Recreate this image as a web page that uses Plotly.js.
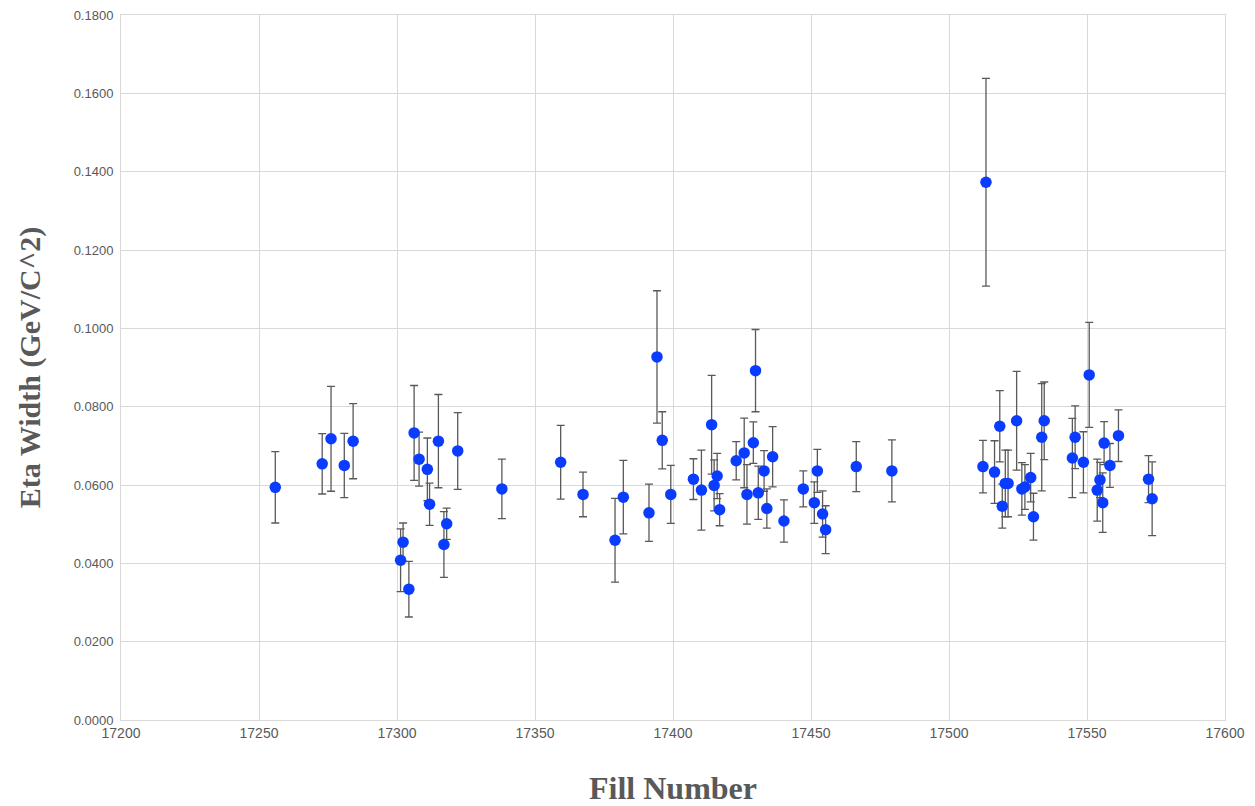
<!DOCTYPE html>
<html>
<head>
<meta charset="utf-8">
<script src="https://cdn.plot.ly/plotly-3.0.1.min.js"></script>
<style>html,body{margin:0;padding:0;background:#fff;}#chart{width:1255px;height:806px;}</style>
</head>
<body>
<div id="chart"></div>
<script>
const fillNumber = [
  17255.9, 17272.9, 17276.1, 17280.9, 17284.1,
  17301.3, 17302.2, 17304.3, 17306.2, 17308.0, 17311.0, 17311.8, 17315.0, 17317.0, 17318.0, 17322.0,
  17338.0, 17359.3, 17367.4, 17379.0, 17382.0, 17391.3, 17394.2, 17396.1, 17399.2,
  17407.4, 17410.3, 17414.0, 17414.9, 17416.0, 17416.9, 17422.9, 17425.8, 17426.8, 17429.1, 17429.9, 17430.9, 17433.0, 17434.0, 17436.1,
  17440.2, 17447.2, 17451.2, 17452.3, 17454.2, 17455.3, 17466.4, 17479.3,
  17512.3, 17513.4, 17516.5, 17518.4, 17519.3, 17520.4, 17521.4, 17524.5, 17526.4, 17527.5, 17529.6, 17530.6, 17533.6, 17534.5,
  17544.7, 17545.7, 17548.7, 17550.8, 17553.7, 17554.7, 17555.7, 17556.2, 17558.3, 17561.4, 17572.3, 17573.6
];
const etaWidth = [
  0.0594, 0.0654, 0.0718, 0.0650, 0.0712,
  0.0408, 0.0454, 0.0334, 0.0733, 0.0666, 0.0640, 0.0551, 0.0712, 0.0448, 0.0501, 0.0687,
  0.0590, 0.0658, 0.0576, 0.0459, 0.0569, 0.0529, 0.0927, 0.0714, 0.0576,
  0.0615, 0.0587, 0.0754, 0.0599, 0.0623, 0.0537, 0.0662, 0.0682, 0.0576, 0.0708, 0.0892, 0.0580, 0.0636, 0.0540, 0.0672,
  0.0508, 0.0590, 0.0555, 0.0636, 0.0526, 0.0486, 0.0647, 0.0636,
  0.0647, 0.1373, 0.0633, 0.0750, 0.0546, 0.0604, 0.0604, 0.0764, 0.0590, 0.0595, 0.0619, 0.0519, 0.0722, 0.0764,
  0.0669, 0.0722, 0.0658, 0.0881, 0.0587, 0.0613, 0.0555, 0.0707, 0.0650, 0.0726, 0.0615, 0.0565
];
const etaError = [
  0.0091, 0.0077, 0.0134, 0.0082, 0.0096,
  0.0080, 0.0049, 0.0071, 0.0121, 0.0069, 0.0080, 0.0054, 0.0119, 0.0084, 0.0040, 0.0098,
  0.0076, 0.0094, 0.0057, 0.0107, 0.0094, 0.0073, 0.0169, 0.0073, 0.0074,
  0.0052, 0.0102, 0.0126, 0.0065, 0.0058, 0.0041, 0.0049, 0.0089, 0.0076, 0.0053, 0.0105, 0.0068, 0.0052, 0.0050, 0.0077,
  0.0054, 0.0046, 0.0053, 0.0055, 0.0059, 0.0061, 0.0064, 0.0079,
  0.0067, 0.0265, 0.0080, 0.0091, 0.0056, 0.0085, 0.0085, 0.0126, 0.0067, 0.0057, 0.0062, 0.0060, 0.0137, 0.0099,
  0.0101, 0.0080, 0.0078, 0.0134, 0.0079, 0.0045, 0.0076, 0.0055, 0.0056, 0.0066, 0.0060, 0.0094
];

const trace = {
  x: fillNumber,
  y: etaWidth,
  type: 'scatter',
  mode: 'markers',
  marker: {color: '#0a3cff', size: 11.5},
  error_y: {type: 'data', array: etaError, visible: true, color: '#595959', thickness: 1.3, width: 4},
  showlegend: false,
  hoverinfo: 'x+y'
};

const layout = {
  width: 1255,
  height: 806,
  paper_bgcolor: '#ffffff',
  plot_bgcolor: '#ffffff',
  margin: {l: 121, r: 30, t: 15, b: 86},
  showlegend: false,
  xaxis: {
    range: [17200, 17600],
    dtick: 50,
    tick0: 17200,
    tickformat: 'd',
    showgrid: true,
    gridcolor: '#d9d9d9',
    gridwidth: 1,
    zeroline: false,
    showline: true,
    linecolor: '#d9d9d9',
    mirror: true,
    ticks: '',
    ticklabelstandoff: 0,
    tickfont: {family: 'Liberation Sans Narrow, Arial Narrow, Liberation Sans, Arial', size: 14, color: '#595959'},
    title: {text: 'Fill Number', font: {family: 'Liberation Serif, DejaVu Serif, serif', size: 32, color: '#595959', weight: 'bold'}, standoff: 38},
    automargin: false
  },
  yaxis: {
    range: [0, 0.18],
    dtick: 0.02,
    tick0: 0,
    tickformat: '.4f',
    showgrid: true,
    gridcolor: '#d9d9d9',
    gridwidth: 1,
    zeroline: false,
    showline: true,
    linecolor: '#d9d9d9',
    mirror: true,
    ticks: '',
    ticklabelstandoff: 4,
    tickfont: {family: 'Liberation Sans, Arial', size: 13, color: '#595959'},
    title: {text: 'Eta Width (GeV/C^2)', font: {family: 'Liberation Serif, DejaVu Serif, serif', size: 30, color: '#595959', weight: 'bold'}, standoff: 24},
    automargin: false
  }
};

Plotly.newPlot('chart', [trace], layout, {displayModeBar: false, staticPlot: true});
</script>
</body>
</html>
